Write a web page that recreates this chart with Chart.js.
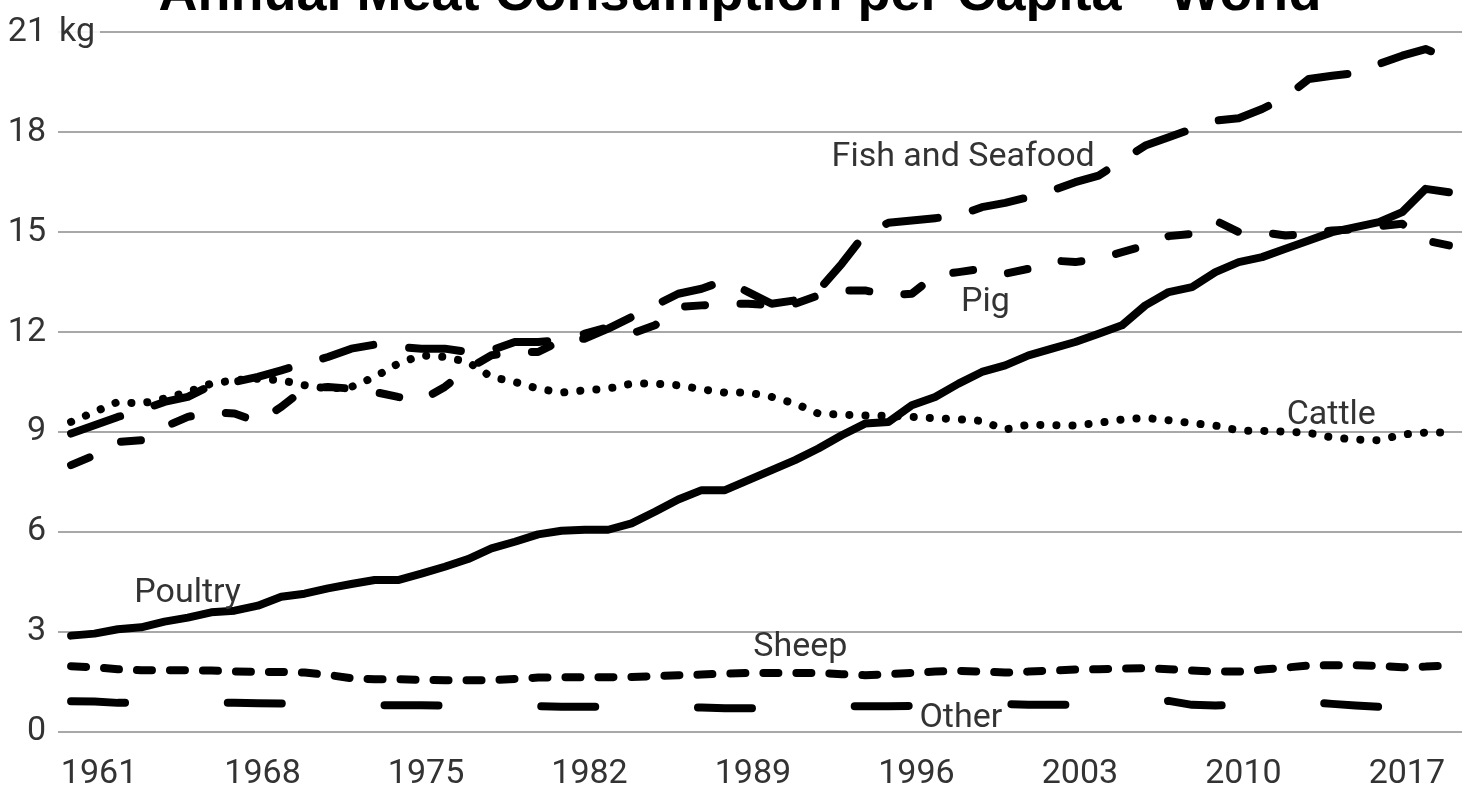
<!DOCTYPE html>
<html><head><meta charset="utf-8">
<script src="https://cdn.jsdelivr.net/npm/chart.js@4.4.0/dist/chart.umd.min.js"></script>
<style>html,body{margin:0;padding:0;background:#fff;overflow:hidden}canvas{display:block}</style>
</head><body>
<canvas id="c" width="1471" height="788"></canvas>
<script>
const years = [1961,1962,1963,1964,1965,1966,1967,1968,1969,1970,
  1971,1972,1973,1974,1975,1976,1977,1978,1979,1980,
  1981,1982,1983,1984,1985,1986,1987,1988,1989,1990,
  1991,1992,1993,1994,1995,1996,1997,1998,1999,2000,
  2001,2002,2003,2004,2005,2006,2007,2008,2009,2010,
  2011,2012,2013,2014,2015,2016,2017,2018,2019,2020];
const fish = [8.95,9.2,9.45,9.65,9.9,10.05,10.4,10.5,10.65,10.85,
  11.05,11.25,11.5,11.62,11.55,11.5,11.5,11.4,11.45,11.7,
  11.7,11.75,11.8,12.1,12.45,12.8,13.15,13.3,13.55,13.2,
  12.85,12.95,13.25,14.05,14.95,15.28,15.35,15.42,15.5,15.75,
  15.88,16.05,16.25,16.5,16.7,17.15,17.6,17.85,18.1,18.35,
  18.42,18.7,19.05,19.6,19.7,19.78,20.05,20.3,20.5,20.22];
const pig = [8.0,8.3,8.7,8.75,9.15,9.45,9.6,9.55,9.3,9.75,
  10.3,10.35,10.3,10.2,10.05,9.95,10.35,10.9,11.3,11.4,
  11.4,11.75,11.95,12.15,11.95,12.2,12.75,12.8,12.85,12.85,
  12.8,12.85,13.1,13.25,13.25,13.1,13.15,13.7,13.8,13.9,
  13.75,13.9,14.15,14.1,14.2,14.4,14.6,14.88,14.95,15.35,
  15.0,15.0,14.9,14.95,15.05,15.08,15.18,15.25,14.75,14.6];
const cattle = [9.3,9.6,9.9,9.85,10.0,10.2,10.45,10.55,10.6,10.55,
  10.4,10.3,10.35,10.65,11.05,11.3,11.25,11.1,10.65,10.5,
  10.3,10.18,10.25,10.3,10.45,10.45,10.4,10.28,10.18,10.18,
  10.05,9.85,9.55,9.52,9.49,9.48,9.45,9.41,9.38,9.33,
  9.07,9.22,9.2,9.19,9.27,9.37,9.42,9.35,9.26,9.19,
  9.04,9.03,9.01,8.97,8.83,8.77,8.75,8.92,8.98,8.98];
const poultry = [2.88,2.94,3.07,3.13,3.3,3.42,3.58,3.63,3.78,4.05,
  4.14,4.3,4.43,4.55,4.55,4.74,4.95,5.18,5.5,5.7,
  5.92,6.03,6.06,6.06,6.25,6.6,6.97,7.25,7.25,7.55,
  7.85,8.15,8.5,8.9,9.25,9.3,9.8,10.05,10.45,10.8,
  11.0,11.3,11.5,11.7,11.95,12.2,12.8,13.2,13.35,13.8,
  14.1,14.25,14.5,14.75,15.0,15.15,15.3,15.6,16.3,16.2];
const sheep = [1.96,1.93,1.87,1.84,1.84,1.84,1.83,1.8,1.79,1.79,
  1.77,1.7,1.6,1.57,1.57,1.55,1.54,1.54,1.54,1.58,
  1.62,1.63,1.63,1.63,1.64,1.66,1.69,1.71,1.74,1.76,
  1.76,1.76,1.76,1.72,1.69,1.72,1.76,1.8,1.82,1.8,
  1.77,1.8,1.83,1.86,1.87,1.89,1.9,1.87,1.83,1.8,
  1.8,1.86,1.92,1.98,1.99,1.99,1.97,1.93,1.95,1.99];
const other = [0.91,0.9,0.86,0.86,0.86,0.86,0.86,0.86,0.85,0.84,
  0.83,0.82,0.8,0.79,0.79,0.79,0.78,0.77,0.77,0.78,
  0.76,0.74,0.74,0.74,0.73,0.72,0.72,0.72,0.7,0.7,
  0.7,0.72,0.74,0.76,0.76,0.76,0.77,0.78,0.8,0.84,
  0.83,0.8,0.8,0.8,0.82,0.84,0.86,0.92,0.8,0.78,
  0.8,0.85,0.9,0.88,0.83,0.78,0.74,0.74,0.74,0.74];
const seriesNames = ['Fish and Seafood','Pig','Cattle','Poultry','Sheep','Other'];
const tickYears = [1961,1968,1975,1982,1989,1996,2003,2010,2017];
const titleText = 'Annual Meat Consumption per Capita - World';
const unitText = 'kg';

const seriesValues = [fish, pig, cattle, poultry, sheep, other];
const dashes = [[52,36],[20,35.5],[0.1,16],[],[15,18],[54,102.75]];
const widths = [8,8,8,8,8,8];
// label anchors (data coordinates: year, kg) - text centre / baseline
const labelAnchors = [[1999.2,17.0],[2000.15,12.63],[2014.96,9.25],[1965.99,3.9],[1992.23,2.28],[1999.1,0.15]];

const FONT = 'Roboto';
const TEXT = '#333333';

const datasets = seriesValues.map((vals, i) => ({
  label: seriesNames[i],
  data: years.map((yr, k) => ({x: yr, y: vals[k]})),
  borderColor: '#000',
  borderWidth: widths[i],
  borderDash: dashes[i],
  borderCapStyle: 'round',
  borderJoinStyle: 'round',
  pointRadius: 0,
  tension: 0,
  fill: false
}));

const annot = {
  id: 'annot',
  beforeDatasetsDraw(chart) {
    const {ctx, scales: {x, y}} = chart;
    const py = y.getPixelForValue(21);
    ctx.save();
    ctx.fillStyle = 'rgba(255,255,255,0.88)';
    ctx.fillRect(x.left - 2, py - 4, 44, 8);
    ctx.font = '34px ' + FONT;
    ctx.fillStyle = TEXT;
    ctx.textAlign = 'left';
    ctx.textBaseline = 'middle';
    ctx.fillText(unitText, x.left + 1, py);
    ctx.restore();
  },
  afterDraw(chart) {
    const {ctx, scales: {x, y}} = chart;
    ctx.save();
    ctx.font = 'bold 54px "Liberation Sans", Arial, sans-serif';
    ctx.fillStyle = '#000';
    ctx.textAlign = 'center';
    ctx.textBaseline = 'alphabetic';
    ctx.fillText(titleText, 740, 10);
    ctx.font = '34px ' + FONT;
    ctx.fillStyle = TEXT;
    seriesNames.forEach((name, i) => {
      const [ax, ay] = labelAnchors[i];
      ctx.fillText(name, x.getPixelForValue(ax), y.getPixelForValue(ay));
    });
    ctx.restore();
  }
};

new Chart(document.getElementById('c'), {
  type: 'line',
  data: {datasets},
  options: {
    responsive: false,
    animation: false,
    devicePixelRatio: 1,
    layout: {padding: {left: 0, top: 29, right: 9, bottom: 0}},
    plugins: {legend: {display: false}, tooltip: {enabled: false}, title: {display: false}},
    scales: {
      x: {
        type: 'linear',
        min: 1960.44,
        max: 2020.56,
        afterBuildTicks: (axis) => { axis.ticks = tickYears.map(v => ({value: v})); },
        afterFit: (scale) => { scale.height = 56.5; },
        grid: {display: false, drawTicks: false},
        border: {display: false},
        ticks: {
          autoSkip: false, maxRotation: 0, minRotation: 0,
          labelOffset: 28, padding: 23,
          color: TEXT, font: {family: FONT, size: 34},
          callback: (v) => String(v)
        }
      },
      y: {
        min: 0, max: 21,
        afterFit: (scale) => { scale.width = 58; },
        grid: {color: '#a8a8a8', lineWidth: 2, drawTicks: false},
        border: {display: false},
        ticks: {
          stepSize: 3, padding: 12,
          color: TEXT, font: {family: FONT, size: 34},
          callback: (v) => String(v)
        }
      }
    }
  },
  plugins: [annot]
});
</script>
</body></html>
